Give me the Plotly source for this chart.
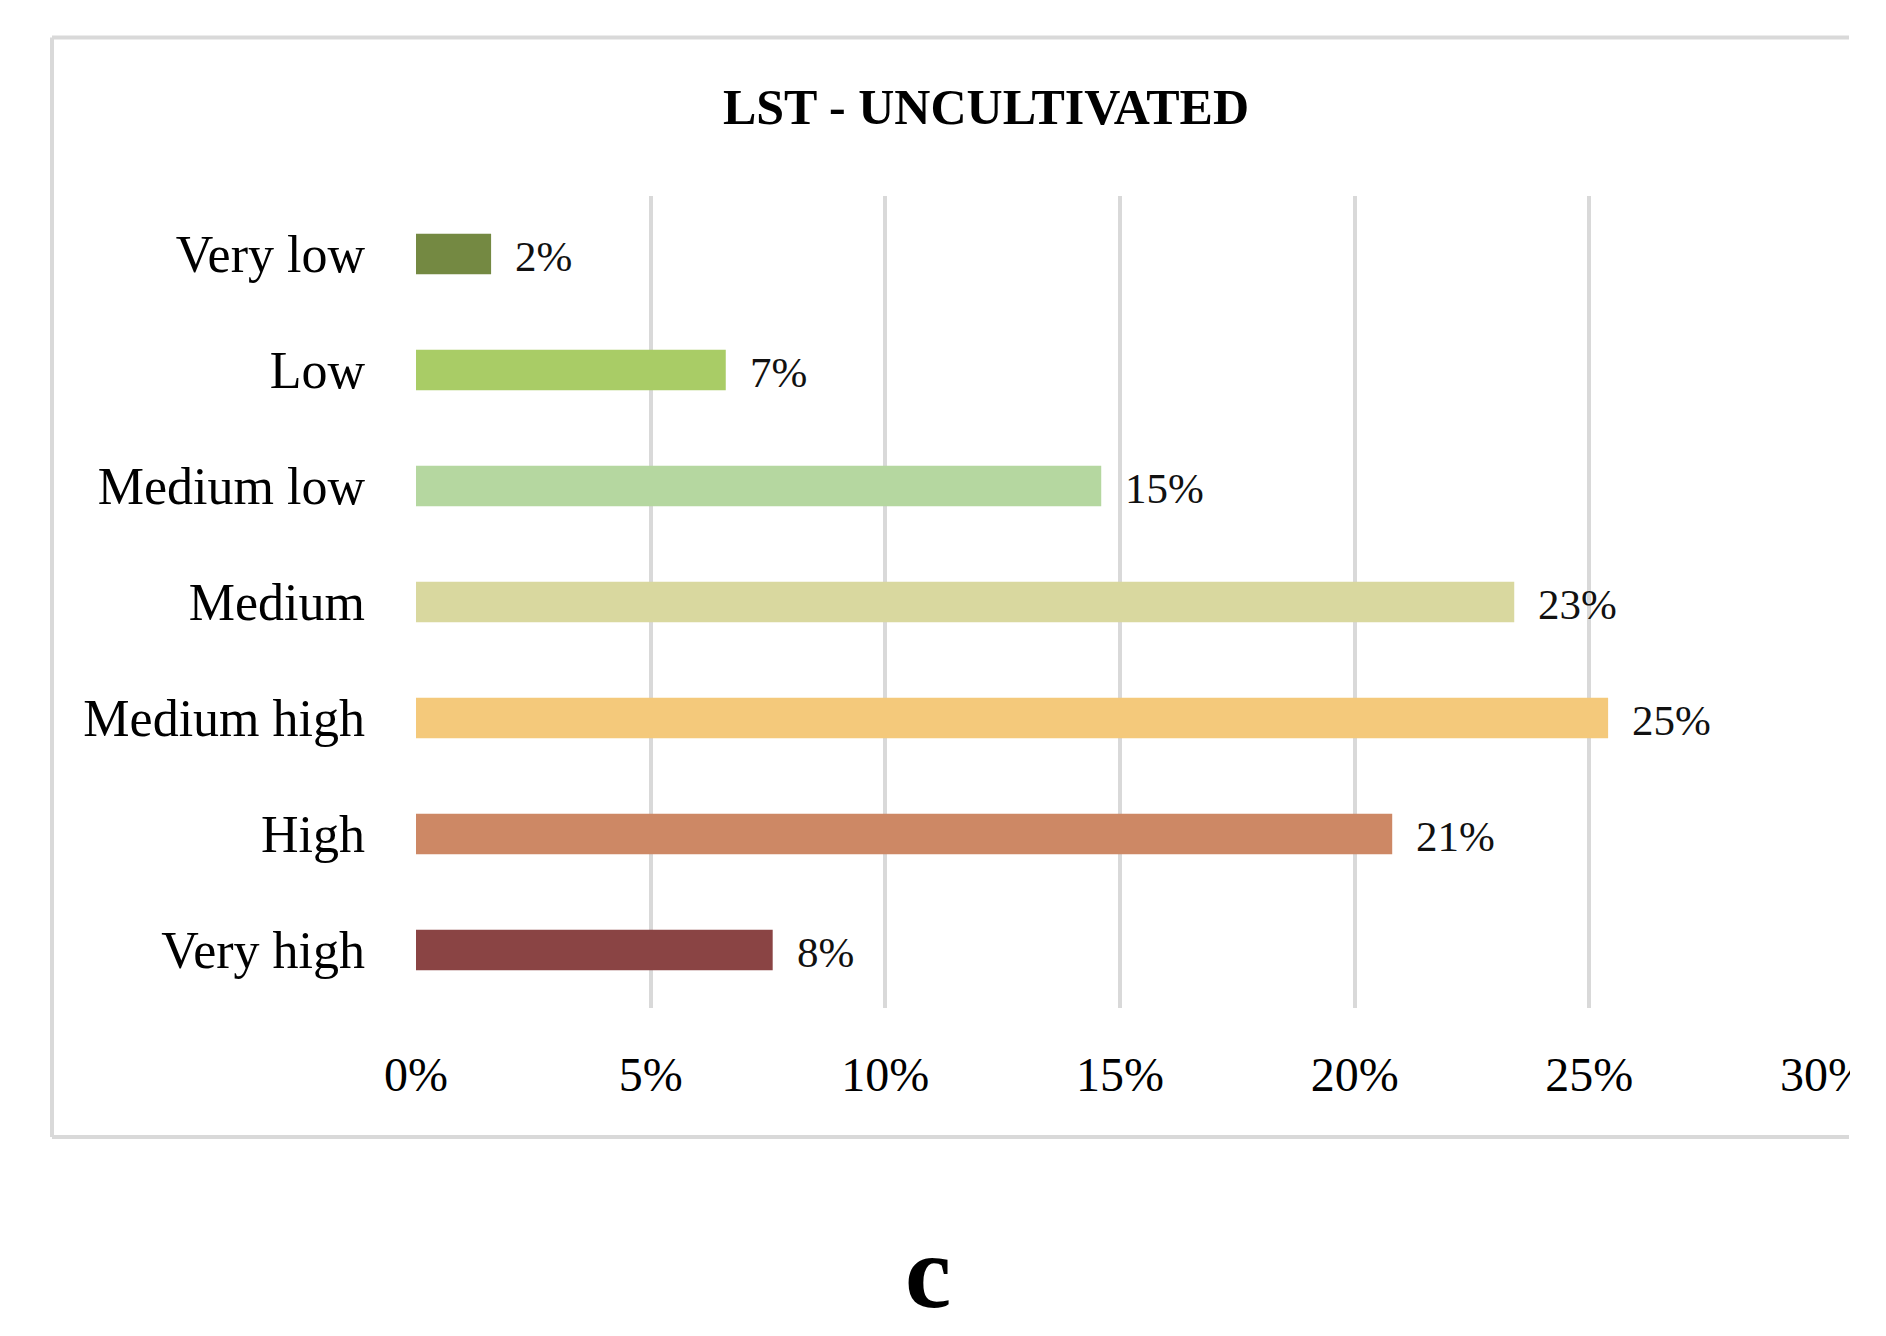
import plotly.graph_objects as go

# ---- data ----
categories = ["Very low", "Low", "Medium low", "Medium", "Medium high", "High", "Very high"]
values = [1.6, 6.6, 14.6, 23.4, 25.4, 20.8, 7.6]   # percent
colors = ["#748942", "#a9cc66", "#b5d7a0", "#d9d89f", "#f4c97b", "#cd8865", "#8a4444"]
x_ticks = [0, 5, 10, 15, 20, 25, 30]
title_text = "LST - UNCULTIVATED"
panel_label = "c"

W, H = 1886, 1336
OFF = 8  # page body margin in the browser
L, R, T, B = 416 - OFF, 1824 - OFF, 196 - OFF, 1008 - OFF   # plot area in figure pixels


def px_x(p):
    p = p - OFF
    return (p - L) / (R - L)


def px_y(p):
    p = p - OFF
    return (B - p) / (B - T)


FONT = "Liberation Serif"

fig = go.Figure()
fig.add_trace(go.Bar(
    y=categories,
    x=values,
    orientation="h",
    marker=dict(color=colors, line=dict(width=0)),
    width=0.35,
    hoverinfo="x+y",
))

# data labels
for c, v in zip(categories, values):
    fig.add_annotation(
        x=v, y=c, xref="x", yref="y",
        text=f"{v:.0f}%", showarrow=False,
        xanchor="left", yanchor="middle", xshift=22, yshift=-2,
        font=dict(family=FONT, size=43, color="#111111"),
    )

# panel letter
fig.add_annotation(
    x=px_x(928), y=px_y(1271), xref="paper", yref="paper",
    text=f"<b>{panel_label}</b>", showarrow=False,
    xanchor="center", yanchor="middle",
    font=dict(family=FONT, size=104, color="#000000"),
)

# chart frame (left, top, bottom; clipped on the right)
frame = dict(color="#d9d9d9", width=4)
fx0, fx1 = px_x(52), px_x(1849)
fy0, fy1 = px_y(1137), px_y(37.5)
fig.add_shape(type="line", xref="paper", yref="paper", x0=fx0, x1=fx0, y0=fy0, y1=fy1, line=frame, layer="below")
fig.add_shape(type="line", xref="paper", yref="paper", x0=fx0, x1=fx1, y0=fy1, y1=fy1, line=frame, layer="below")
fig.add_shape(type="line", xref="paper", yref="paper", x0=fx0, x1=fx1, y0=fy0, y1=fy0, line=frame, layer="below")
# clip region on the right edge
fig.add_shape(type="rect", xref="paper", yref="paper", x0=px_x(1850), x1=px_x(W + 20),
              y0=px_y(H + 20), y1=px_y(-20), fillcolor="white", line=dict(width=0), layer="above")

fig.update_layout(
    width=W, height=H,
    margin=dict(l=L, r=W - R, t=T, b=H - B, pad=0),
    paper_bgcolor="white", plot_bgcolor="white",
    showlegend=False,
    title=dict(text=f"<b>{title_text}</b>", x=(986 - OFF) / W, xanchor="center",
               y=1 - (106 - OFF) / H, yanchor="middle", yref="container",
               font=dict(family=FONT, size=50, color="#000000")),
    bargap=0.65,
)

fig.update_xaxes(
    range=[0, 30], tickvals=x_ticks, ticktext=[f"{t}%" for t in x_ticks],
    showgrid=True, gridcolor="#d9d9d9", gridwidth=3.5,
    zeroline=False, showline=False, ticks="",
    ticklabelstandoff=34,
    tickfont=dict(family=FONT, size=48, color="#000000"),
    fixedrange=True,
)
fig.update_yaxes(
    categoryorder="array", categoryarray=categories[::-1],
    showgrid=False, zeroline=False, showline=False, ticks="",
    ticklabelstandoff=50,
    tickfont=dict(family=FONT, size=52, color="#000000"),
    fixedrange=True,
)

fig.write_html("out.html")
